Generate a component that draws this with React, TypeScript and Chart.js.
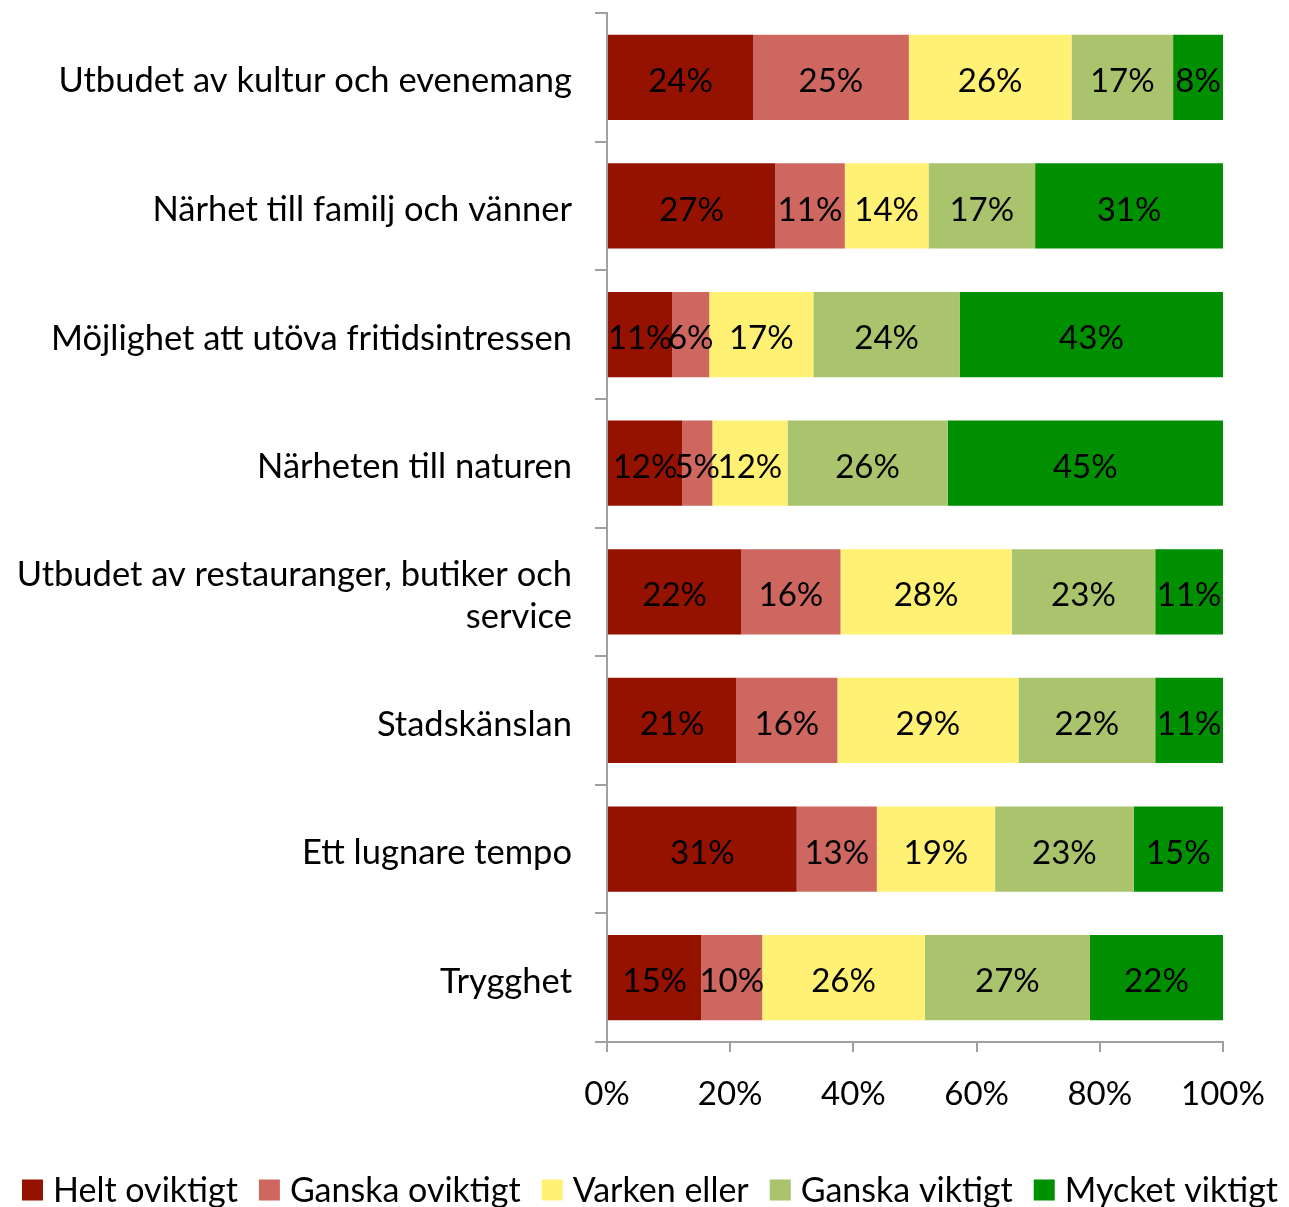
import React, { useEffect, useRef } from "react";
import { Chart, registerables } from "chart.js";

Chart.register(...registerables);

const categories: (string | string[])[] = [
  "Utbudet av kultur och evenemang",
  "Närhet till familj och vänner",
  "Möjlighet att utöva fritidsintressen",
  "Närheten till naturen",
  ["Utbudet av restauranger, butiker och", "service"],
  "Stadskänslan",
  "Ett lugnare tempo",
  "Trygghet",
];

const seriesNames = ["Helt oviktigt", "Ganska oviktigt", "Varken eller", "Ganska viktigt", "Mycket viktigt"];

const heltOviktigt = [23.7, 27.3, 10.6, 12.2, 21.8, 21.0, 30.8, 15.3];
const ganskaOviktigt = [25.3, 11.3, 6.0, 4.9, 16.1, 16.4, 13.0, 9.9];
const varkenEller = [26.4, 13.6, 16.9, 12.2, 27.8, 29.4, 19.2, 26.4];
const ganskaViktigt = [16.5, 17.3, 23.8, 26.0, 23.3, 22.2, 22.5, 26.8];
const mycketViktigt = [8.1, 30.5, 42.7, 44.7, 11.0, 11.0, 14.5, 21.6];

const seriesColors = ["#961200", "#CD6760", "#FFF173", "#AAC46D", "#008F00"];

const xTicks = [0, 20, 40, 60, 80, 100];

const FONT = "Lato, Carlito, 'Liberation Sans', sans-serif";

const valueLabels = {
  id: "valueLabels",
  afterDatasetsDraw(chart: any) {
    const ctx = chart.ctx;
    ctx.save();
    ctx.font = `33px ${FONT}`;
    ctx.fillStyle = "#000000";
    ctx.textAlign = "center";
    ctx.textBaseline = "middle";
    chart.data.datasets.forEach((ds: any, di: number) => {
      const meta = chart.getDatasetMeta(di);
      meta.data.forEach((bar: any, i: number) => {
        const v = ds.data[i];
        const p = bar.getCenterPoint();
        ctx.fillText(Math.round(v) + "%", p.x, p.y + 4);
      });
    });
    ctx.restore();
  },
};

const bottomLegend = {
  id: "bottomLegend",
  afterDraw(chart: any) {
    const ctx = chart.ctx;
    const box = 21;
    const gapText = 10;
    const gapItem = 21;
    const centerX = 650;
    const centerY = 1190;
    ctx.save();
    ctx.font = `34px ${FONT}`;
    ctx.textBaseline = "middle";
    ctx.textAlign = "left";
    const items = chart.data.datasets.map((ds: any) => ({
      label: ds.label,
      color: ds.backgroundColor,
      w: ctx.measureText(ds.label).width,
    }));
    const total =
      items.reduce((s: number, it: any) => s + box + gapText + it.w, 0) + gapItem * (items.length - 1);
    let x = centerX - total / 2;
    items.forEach((it: any) => {
      ctx.fillStyle = it.color;
      ctx.fillRect(x, centerY - box / 2, box, box);
      ctx.fillStyle = "#000000";
      ctx.fillText(it.label, x + box + gapText, centerY + 1);
      x += box + gapText + it.w + gapItem;
    });
    ctx.restore();
  },
};

export default function App() {
  const ref = useRef<HTMLCanvasElement | null>(null);
  useEffect(() => {
    if (!ref.current) return;
    const allSeries = [heltOviktigt, ganskaOviktigt, varkenEller, ganskaViktigt, mycketViktigt];
    const chart = new Chart(ref.current, {
      type: "bar",
      data: {
        labels: categories,
        datasets: allSeries.map((d, i) => ({
          label: seriesNames[i],
          data: d,
          backgroundColor: seriesColors[i],
          borderWidth: 0,
          categoryPercentage: 1,
          barPercentage: 0.662,
        })),
      },
      options: {
        indexAxis: "y",
        responsive: false,
        animation: false,
        layout: { padding: { left: 0, right: 66, top: 13, bottom: 47 } },
        plugins: {
          tooltip: { enabled: false },
          legend: { display: false },
        },
        scales: {
          x: {
            stacked: true,
            min: 0,
            max: 100,
            afterBuildTicks: (scale: any) => {
              scale.ticks = xTicks.map((v) => ({ value: v }));
            },
            afterFit: (scale: any) => {
              scale.height = 118;
            },
            ticks: {
              font: { family: FONT, size: 33 },
              color: "#000000",
              padding: 23,
              maxRotation: 0,
              callback: (v: any) => v + "%",
            },
            grid: {
              drawOnChartArea: false,
              drawTicks: true,
              tickLength: 10,
              color: "#A0A0A0",
              lineWidth: 2,
            },
            border: { display: true, color: "#A0A0A0", width: 2 },
          },
          y: {
            stacked: true,
            afterFit: (scale: any) => {
              scale.width = 607;
              scale.paddingTop = 0;
              scale.paddingBottom = 0;
            },
            ticks: {
              font: { family: FONT, size: 34.5 },
              color: "#000000",
              padding: 23,
              labelOffset: 4,
            },
            grid: {
              drawOnChartArea: false,
              drawTicks: true,
              tickLength: 12,
              color: "#A0A0A0",
              lineWidth: 2,
            },
            border: { display: true, color: "#A0A0A0", width: 2 },
          },
        },
      },
      plugins: [valueLabels, bottomLegend],
    });
    return () => chart.destroy();
  }, []);
  return (
    <div style={{ position: "absolute", left: 0, top: 0, width: 1289, height: 1207, background: "#ffffff" }}>
      <canvas ref={ref} width={1289} height={1207} style={{ width: 1289, height: 1207, display: "block" }} />
    </div>
  );
}
